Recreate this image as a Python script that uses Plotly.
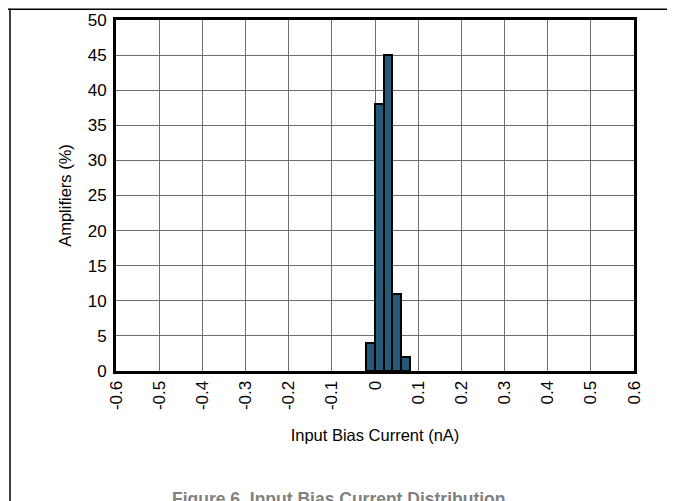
import plotly.graph_objects as go

# Data
bin_starts = [-0.02, 0.00, 0.02, 0.04, 0.06]   # nA, bin left edges
bin_width = 0.02
amplifiers_pct = [4, 38, 45, 11, 2]
x_ticks = [-0.6, -0.5, -0.4, -0.3, -0.2, -0.1, 0, 0.1, 0.2, 0.3, 0.4, 0.5, 0.6]
x_tick_text = ["-0.6", "-0.5", "-0.4", "-0.3", "-0.2", "-0.1", "0", "0.1", "0.2", "0.3", "0.4", "0.5", "0.6"]
y_ticks = [0, 5, 10, 15, 20, 25, 30, 35, 40, 45, 50]
caption = "Figure 6. Input Bias Current Distribution"

W, H = 675, 501
OFF = 8  # page body margin offset
# desired screen positions of the plot frame
SL, SR, ST, SB = 116, 634, 19.5, 371.5
L = SL - OFF
R = W - (SR - OFF)
T = ST - OFF
B = H - (SB - OFF)
pw, ph = W - L - R, H - T - B

centers = [s + bin_width / 2 for s in bin_starts]

fig = go.Figure()
fig.add_trace(go.Bar(
    x=centers, y=amplifiers_pct, width=[bin_width] * len(centers),
    marker=dict(color="#245a78", line=dict(color="black", width=2)),
    showlegend=False,
))

fam = "Liberation Sans, Arial, sans-serif"
tickfont = dict(family=fam, size=17, color="black")
titlefont = dict(family=fam, size=16.5, color="black")

fig.update_layout(
    width=W, height=H,
    margin=dict(l=L, r=R, t=T, b=B, pad=0, autoexpand=False),
    paper_bgcolor="white", plot_bgcolor="white",
    font=tickfont,
    bargap=0,
    xaxis=dict(
        range=[-0.6, 0.6], tickvals=x_ticks, ticktext=x_tick_text, tickangle=-90,
        showgrid=True, gridcolor="#6e6e6e", gridwidth=1,
        showline=True, linecolor="black", linewidth=3, mirror=True,
        zeroline=False, ticks="", ticklen=0, automargin=False,
        title=dict(text="Input Bias Current (nA)", standoff=21, font=titlefont),
        tickfont=tickfont, fixedrange=True,
    ),
    yaxis=dict(
        range=[0, 50], tickvals=y_ticks,
        showgrid=True, gridcolor="#6e6e6e", gridwidth=1,
        showline=True, linecolor="black", linewidth=3, mirror=True,
        zeroline=False, ticks="", ticklen=0, ticklabelstandoff=3, automargin=False,
        title=dict(text="Amplifiers (%)", standoff=12, font=titlefont),
        tickfont=tickfont, fixedrange=True,
    ),
)

def px_x(p):
    # screen pixel -> paper x
    return (p - OFF - L) / pw

def px_y(p):
    # screen pixel -> paper y
    return (SB - p) / ph

# page border lines (top and left)
fig.add_shape(type="line", xref="paper", yref="paper",
              x0=px_x(OFF), x1=px_x(W + OFF), y0=px_y(OFF + 0.75), y1=px_y(OFF + 0.75),
              line=dict(color="black", width=1.5))
fig.add_shape(type="line", xref="paper", yref="paper",
              x0=px_x(10), x1=px_x(10), y0=px_y(OFF), y1=px_y(H + OFF),
              line=dict(color="black", width=1.5))

fig.add_annotation(
    text="<b>" + caption + "</b>", xref="paper", yref="paper",
    x=px_x(338), y=px_y(488), xanchor="center", yanchor="top",
    showarrow=False,
    font=dict(family=fam, size=17.5, color="#808080"),
)

fig.write_html("out.html")
